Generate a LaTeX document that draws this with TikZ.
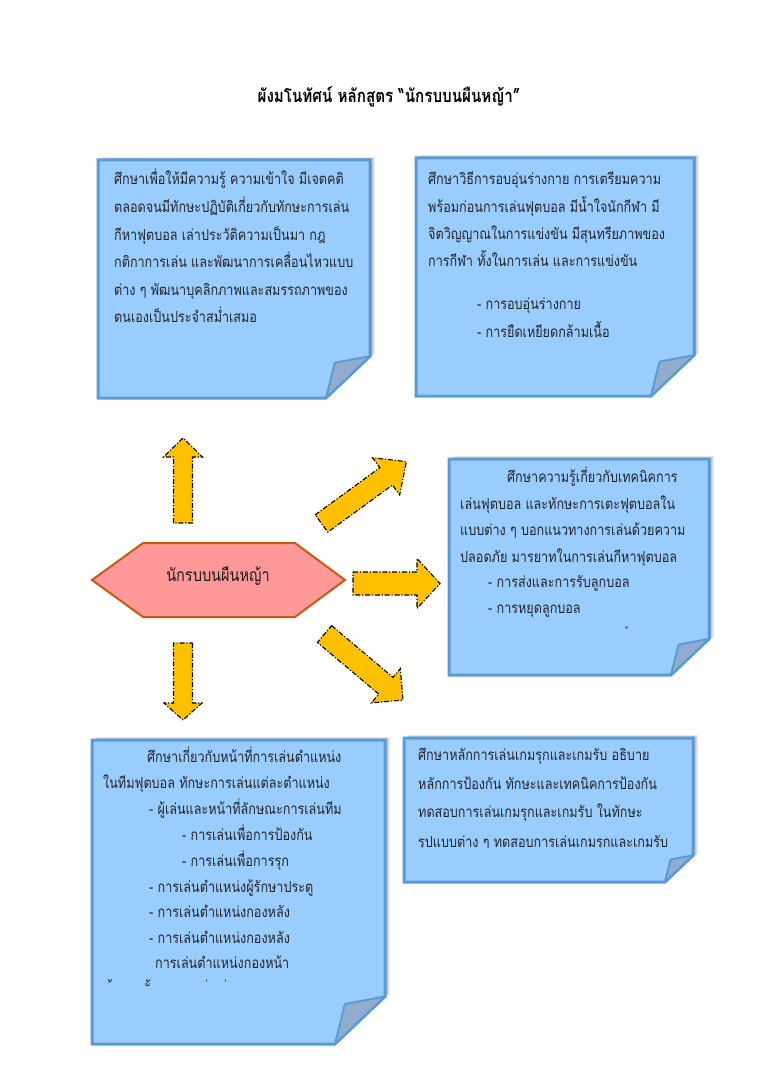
\documentclass[tikz,border=0pt]{standalone}
\usepackage{fontspec}
\setmainfont[Script=Thai,FakeStretch=0.83]{Loma}
\newfontfamily\thaimark[FakeStretch=0.83]{Loma}
\definecolor{boxfill}{RGB}{153,204,255}
\definecolor{boxline}{RGB}{91,155,213}
\definecolor{foldfill}{RGB}{146,172,206}
\definecolor{hexfill}{RGB}{255,153,153}
\definecolor{hexline}{RGB}{197,90,17}
\definecolor{arrowfill}{RGB}{255,192,0}
\newcommand\stickybox[6]{%
  % #1 name, #2 x1, #3 y1, #4 x2, #5 y2, #6 fold
  \foreach \o/\op in {5/0.08,3.5/0.12,2/0.18}{%
    \fill[black,opacity=\op] (#2+\o,#3-\o*0.6) -- (#4+\o,#3-\o*0.6) -- (#4+\o,#5-#6) -- (#4-#6,#5) -- (#2+\o,#5) -- cycle;}
  \draw[boxline,line width=3pt,fill=boxfill,line join=miter]
    (#2,#3) -- (#4,#3) -- (#4,#5-0.95*#6) -- (#4-#6,#5) -- (#2,#5) -- cycle;
  \draw[boxline,line width=2pt,fill=foldfill,line join=round]
    (#4-#6,#5) -- (#4-0.8*#6,#5-0.8*#6) -- (#4,#5-0.95*#6) -- cycle;
  \coordinate (#1) at ({(#2+#4)/2},{(#3+#5)/2});
}
\newcommand\blockarrow[8]{%
  % #1 name, #2 x, #3 y, #4 angle (counterclockwise on page), #5 length, #6 shaft half, #7 head half, #8 head length
  \begin{scope}[shift={(#2,#3)},rotate=#4]
    \draw[arrowstyle] (0,-#6) -- (#5-#8,-#6) -- (#5-#8,-#7) -- (#5,0) -- (#5-#8,#7) -- (#5-#8,#6) -- (0,#6) -- cycle;
    \coordinate (#1) at (#5,0);
  \end{scope}
}
\begin{document}
\begin{tikzpicture}[x=1pt,y=-1pt,
  arrowstyle/.style={fill=arrowfill,draw=black,line width=1.1pt,
    dash pattern=on 5pt off 1.8pt on 1.2pt off 1.8pt,line join=miter},
  tx/.style={anchor=mid west,inner sep=0pt,font=\fontsize{15.2}{17}\selectfont,text=black!85},
  mk/.style={inner sep=0pt,font=\thaimark\fontsize{15}{17}\selectfont,text=black!85},
  ]
\useasboundingbox (0,0) rectangle (768,1086);
\fill[white] (0,0) rectangle (768,1086);

% title
\node[inner sep=0pt,font=\bfseries\fontsize{18.3}{20}\selectfont] (title) at (389,97) {ผังมโนทัศน์ หลักสูตร “นักรบบนผืนหญ้า”};

% boxes
\stickybox{b1}{98}{160}{370}{398}{44}
\stickybox{b2}{416}{158}{694}{396}{43}
\stickybox{b3}{449}{459}{709}{675}{38}
\stickybox{b4}{92}{740}{385}{1044}{50}
\stickybox{b5}{404}{738}{693}{882}{28}

% box 1 text
\node[tx] (t11) at (114,182) {ศึกษาเพื่อให้มีความรู้ ความเข้าใจ มีเจตคติ};
\node[tx] (t12) at (114,210) {ตลอดจนมีทักษะปฏิบัติเกี่ยวกับทักษะการเล่น};
\node[tx] (t13) at (114,238) {กีหาฟุตบอล เล่าประวัติความเป็นมา กฎ};
\node[tx] (t14) at (114,265) {กติกาการเล่น และพัฒนาการเคลื่อนไหวแบบ};
\node[tx] (t15) at (114,293) {ต่าง ๆ พัฒนาบุคลิกภาพและสมรรถภาพของ};
\node[tx] (t16) at (114,320) {ตนเองเป็นประจำสม่ำเสมอ};

% box 2 text
\node[tx] (t21) at (428,182) {ศึกษาวิธีการอบอุ่นร่างกาย การเตรียมความ};
\node[tx] (t22) at (428,210) {พร้อมก่อนการเล่นฟุตบอล มีน้ำใจนักกีฬา มี};
\node[tx] (t23) at (428,237) {จิตวิญญาณในการแข่งขัน มีสุนทรียภาพของ};
\node[tx] (t24) at (428,264) {การกีฬา ทั้งในการเล่น และการแข่งขัน};
\node[tx] (t25) at (477,307) {- การอบอุ่นร่างกาย};
\node[tx] (t26) at (477,335) {- การยืดเหยียดกล้ามเนื้อ};

% box 3 text
\node[tx] (t31) at (507,480) {ศึกษาความรู้เกี่ยวกับเทคนิคการ};
\node[tx] (t32) at (460,507) {เล่นฟุตบอล และทักษะการเตะฟุตบอลใน};
\node[tx] (t33) at (460,533) {แบบต่าง ๆ บอกแนวทางการเล่นด้วยความ};
\node[tx] (t34) at (460,560) {ปลอดภัย มารยาทในการเล่นกีหาฟุตบอล};
\node[tx] (t35) at (488,585) {- การส่งและการรับลูกบอล};
\node[tx] (t36) at (488,611) {- การหยุดลูกบอล};
\node[mk,font=\thaimark\fontsize{10}{11}\selectfont] (t37) at (628,632) {้};

% box 4 text
\node[tx] (t41) at (147,760) {ศึกษาเกี่ยวกับหน้าที่การเล่นตำแหน่ง};
\node[tx] (t42) at (103,786) {ในทีมฟุตบอล ทักษะการเล่นแต่ละตำแหน่ง};
\node[tx] (t43) at (149,812) {- ผู้เล่นและหน้าที่ลักษณะการเล่นทีม};
\node[tx] (t44) at (182,838) {- การเล่นเพื่อการป้องกัน};
\node[tx] (t45) at (182,864) {- การเล่นเพื่อการรุก};
\node[tx] (t46) at (149,890) {- การเล่นตำแหน่งผู้รักษาประตู};
\node[tx] (t47) at (149,915) {- การเล่นตำแหน่งกองหลัง};
\node[tx] (t48) at (149,941) {- การเล่นตำแหน่งกองหลัง};
\node[tx] (t49) at (155,966) {การเล่นตำแหน่งกองหน้า};
\node[mk] (m41) at (112,988) {้};
\node[mk] (m42) at (150,988) {ั้};
\node[mk] (m43) at (208,988) {่};
\node[mk] (m44) at (227,988) {่};

% box 5 text
\node[tx] (t51) at (418,758) {ศึกษาหลักการเล่นเกมรุกและเกมรับ อธิบาย};
\node[tx] (t52) at (418,787) {หลักการป้องกัน ทักษะและเทคนิคการป้องกัน};
\node[tx] (t53) at (418,815) {ทดสอบการเล่นเกมรุกและเกมรับ ในทักษะ};
\begin{scope}
  \clip (404,825) rectangle (693,847);
  \node[tx,anchor=base west] (t54) at (418,847.5) {รูปแบบต่าง ๆ ทดสอบการเล่นเกมรุกและเกมรับ};
\end{scope}

% hexagon
\draw[hexline,line width=2pt,fill=hexfill,line join=miter]
  (92,580) -- (143,543) -- (295,543) -- (345,580) -- (295,617) -- (143,617) -- cycle;
\node[inner sep=0pt,font=\fontsize{17.5}{19}\selectfont,text=black!90] (hub) at (218,576) {นักรบบนผืนหญ้า};

% block arrows
\blockarrow{aup}{183}{523}{90}{85}{9.5}{19.5}{19}
\blockarrow{adown}{183}{643}{-90}{77}{9.5}{19}{17}
\blockarrow{aright}{353}{583.5}{0}{87}{11.5}{25}{23}
\blockarrow{aur}{321.5}{523.5}{36.1}{105}{10.7}{23}{25}
\blockarrow{adr}{324.5}{634}{-40.1}{102.6}{11}{22.4}{22.3}
\end{tikzpicture}
\end{document}
